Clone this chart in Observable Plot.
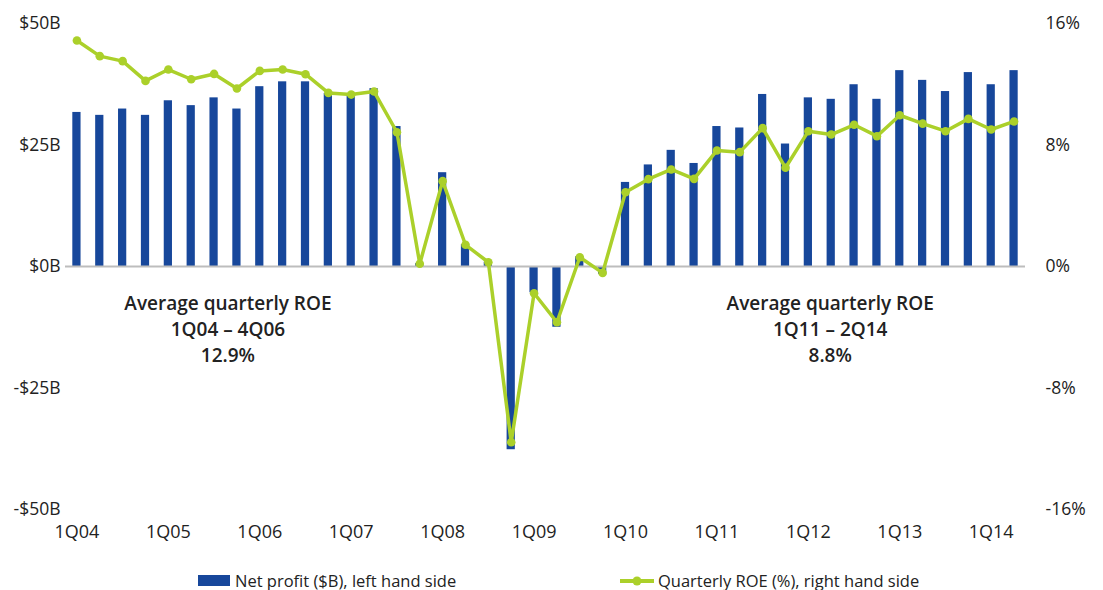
<!DOCTYPE html>
<html>
<head>
<meta charset="utf-8">
<script src="https://cdn.jsdelivr.net/npm/d3@7"></script>
<script src="https://cdn.jsdelivr.net/npm/@observablehq/plot@0.6"></script>
<style>
  html, body { margin: 0; padding: 0; background: #fff; overflow: hidden; }
  body { width: 1103px; height: 590px; font-family: "Open Sans", sans-serif; color: #222; }
  #chart svg { display: block; }
  #legend { position: relative; height: 30px; font-size: 16.5px; color: #222; }
  .li { position: absolute; top: 9px; display: flex; align-items: center; white-space: nowrap; }
</style>
</head>
<body>
<div id="chart"></div>
<div id="legend">
  <div class="li" style="left:198px"><svg width="32" height="12" style="margin-right:5px"><rect width="32" height="11" fill="#17479b"/></svg>Net profit ($B), left hand side</div>
  <div class="li" style="left:620px"><svg width="36" height="12" style="margin-right:2px"><line x1="0" x2="34" y1="6" y2="6" stroke="#abd02a" stroke-width="4"/><circle cx="17" cy="6" r="4.5" fill="#abd02a"/></svg>Quarterly ROE (%), right hand side</div>
</div>
<script>
const quarters = [
  "1Q04","2Q04","3Q04","4Q04","1Q05","2Q05","3Q05","4Q05","1Q06","2Q06","3Q06","4Q06",
  "1Q07","2Q07","3Q07","4Q07","1Q08","2Q08","3Q08","4Q08","1Q09","2Q09","3Q09","4Q09",
  "1Q10","2Q10","3Q10","4Q10","1Q11","2Q11","3Q11","4Q11","1Q12","2Q12","3Q12","4Q12",
  "1Q13","2Q13","3Q13","4Q13","1Q14","2Q14"
];
const netProfit = [
  31.7, 31.1, 32.4, 31.1, 34.1, 33.1, 34.7, 32.4, 37.0, 38.0, 38.0, 35.6,
  35.2, 36.6, 28.8, 0.6, 19.3, 4.5, 0.9, -37.7, -5.4, -12.5, 2.0, -1.6,
  17.3, 20.9, 23.9, 21.2, 28.8, 28.5, 35.4, 25.2, 34.7, 34.4, 37.4, 34.4,
  40.3, 38.3, 36.0, 39.9, 37.4, 40.3
];
const roe = [
  14.88, 13.85, 13.52, 12.22, 12.97, 12.33, 12.68, 11.72, 12.88, 12.97, 12.66, 11.43,
  11.32, 11.52, 8.84, 0.18, 5.62, 1.43, 0.28, -11.57, -1.76, -3.67, 0.61, -0.42,
  4.89, 5.75, 6.39, 5.77, 7.64, 7.53, 9.11, 6.50, 8.91, 8.69, 9.33, 8.58,
  9.96, 9.41, 8.91, 9.72, 9.02, 9.55
];
const xTicks = ["1Q04","1Q05","1Q06","1Q07","1Q08","1Q09","1Q10","1Q11","1Q12","1Q13","1Q14"];
const leftTicks = [-50, -25, 0, 25, 50];
const rightTickLabels = ["-16%", "-8%", "0%", "8%", "16%"];
const annotLeft = [{q: "4Q05", v: -12.6, text: "Average quarterly ROE\n1Q04 – 4Q06\n12.9%"}];
const annotRight = [{q: "2Q12", v: -12.6, text: "Average quarterly ROE\n1Q11 – 2Q14\n8.8%"}];

const ROE_MAX = 16, NP_MAX = 50;
const data = quarters.map((q, i) => ({q, np: netProfit[i], roe: roe[i], roeScaled: roe[i] * NP_MAX / ROE_MAX}));
const blue = "#17479b", green = "#abd02a";

const fmtLeft = v => (v < 0 ? "-$" : "$") + Math.abs(v) + "B";
const fmtRight = v => rightTickLabels[leftTicks.indexOf(v)];
const annStyle = {x: "q", y: "v", text: "text", fontSize: 19, fontWeight: 600, fill: "#222", lineHeight: 1.36, lineAnchor: "middle"};

const chart = Plot.plot({
  width: 1103,
  height: 560,
  marginLeft: 65,
  marginRight: 78,
  marginTop: 23,
  marginBottom: 51,
  style: {fontFamily: "'Open Sans', sans-serif", fontSize: "18px", color: "#222", background: "#fff"},
  x: {type: "band", domain: quarters, paddingInner: 0.64, paddingOuter: 0.32},
  y: {domain: [-50, 50]},
  marks: [
    Plot.barY(data, {x: "q", y: "np", fill: blue}),
    Plot.ruleY([0], {stroke: "#bdbdbd", strokeWidth: 2}),
    Plot.line(data, {x: "q", y: "roeScaled", stroke: green, strokeWidth: 3.5, strokeLinejoin: "round"}),
    Plot.dot(data, {x: "q", y: "roeScaled", fill: green, r: 4.3}),
    Plot.text(annotLeft, {...annStyle, dx: -9}),
    Plot.text(annotRight, {...annStyle, dx: -1}),
    Plot.axisX({ticks: xTicks, tickSize: 0, tickPadding: 16, fontSize: 18, label: null}),
    Plot.axisY({anchor: "left", ticks: leftTicks, tickFormat: fmtLeft, tickSize: 0, tickPadding: 5, fontSize: 17.5, label: null}),
    Plot.axisY({anchor: "right", ticks: leftTicks, tickFormat: fmtRight, tickSize: 0, tickPadding: 20, textAnchor: "start", fontSize: 17.5, label: null})
  ]
});
document.getElementById("chart").appendChild(chart);
</script>
</body>
</html>
